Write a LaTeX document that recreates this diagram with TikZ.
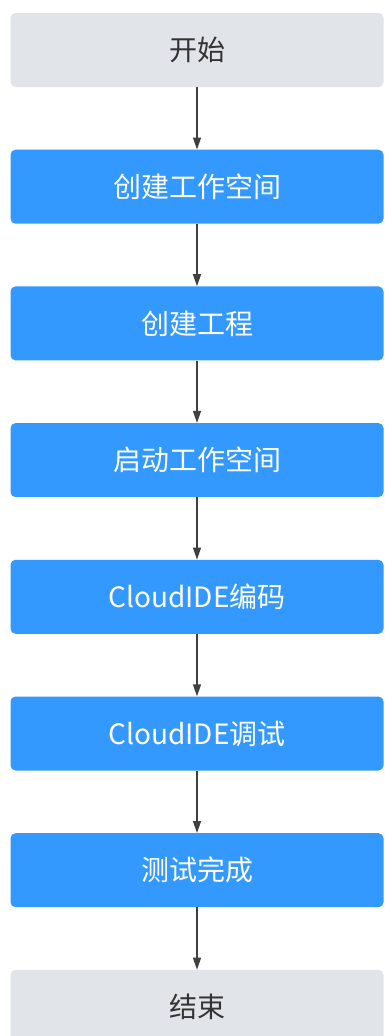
\documentclass[tikz,border=0pt]{standalone}
\usepackage{fontspec}
\setmainfont{Noto Sans CJK SC}
\usetikzlibrary{arrows.meta}
\definecolor{boxgray}{HTML}{E1E4E8}
\definecolor{boxblue}{HTML}{3399FF}
\definecolor{textgray}{HTML}{333333}
\definecolor{arrowgray}{HTML}{404040}
\begin{document}
\begin{tikzpicture}[x=1pt,y=1pt]
\tikzset{every node/.append style={inner sep=0pt},
  endbox/.style={fill=boxgray, rounded corners=5pt, minimum width=373pt, minimum height=74pt, text=textgray, font=\fontsize{28}{32}\selectfont},
  stepbox/.style={endbox, fill=boxblue, text=white},
  flow/.style={draw=arrowgray, line width=1.4pt, -{Triangle[width=8pt,length=12pt]}}}
\useasboundingbox (0,0) rectangle (384,-1036);
\clip (0,0) rectangle (384,-1036);
\node [endbox] (start) at (197,-50) {开始};
\node [stepbox] (ws) at (197,-186.7) {创建工作空间};
\node [stepbox] (proj) at (197,-323.4) {创建工程};
\node [stepbox] (launch) at (197,-460.1) {启动工作空间};
\node [stepbox] (code) at (197,-596.8) {CloudIDE编码};
\node [stepbox] (debug) at (197,-733.5) {CloudIDE调试};
\node [stepbox] (done) at (197,-870.2) {测试完成};
\node [endbox] (stop) at (197,-1006.9) {结束};
\draw [flow] (start) -- (ws);
\draw [flow] (ws) -- (proj);
\draw [flow] (proj) -- (launch);
\draw [flow] (launch) -- (code);
\draw [flow] (code) -- (debug);
\draw [flow] (debug) -- (done);
\draw [flow] (done) -- (stop);
\end{tikzpicture}
\end{document}
